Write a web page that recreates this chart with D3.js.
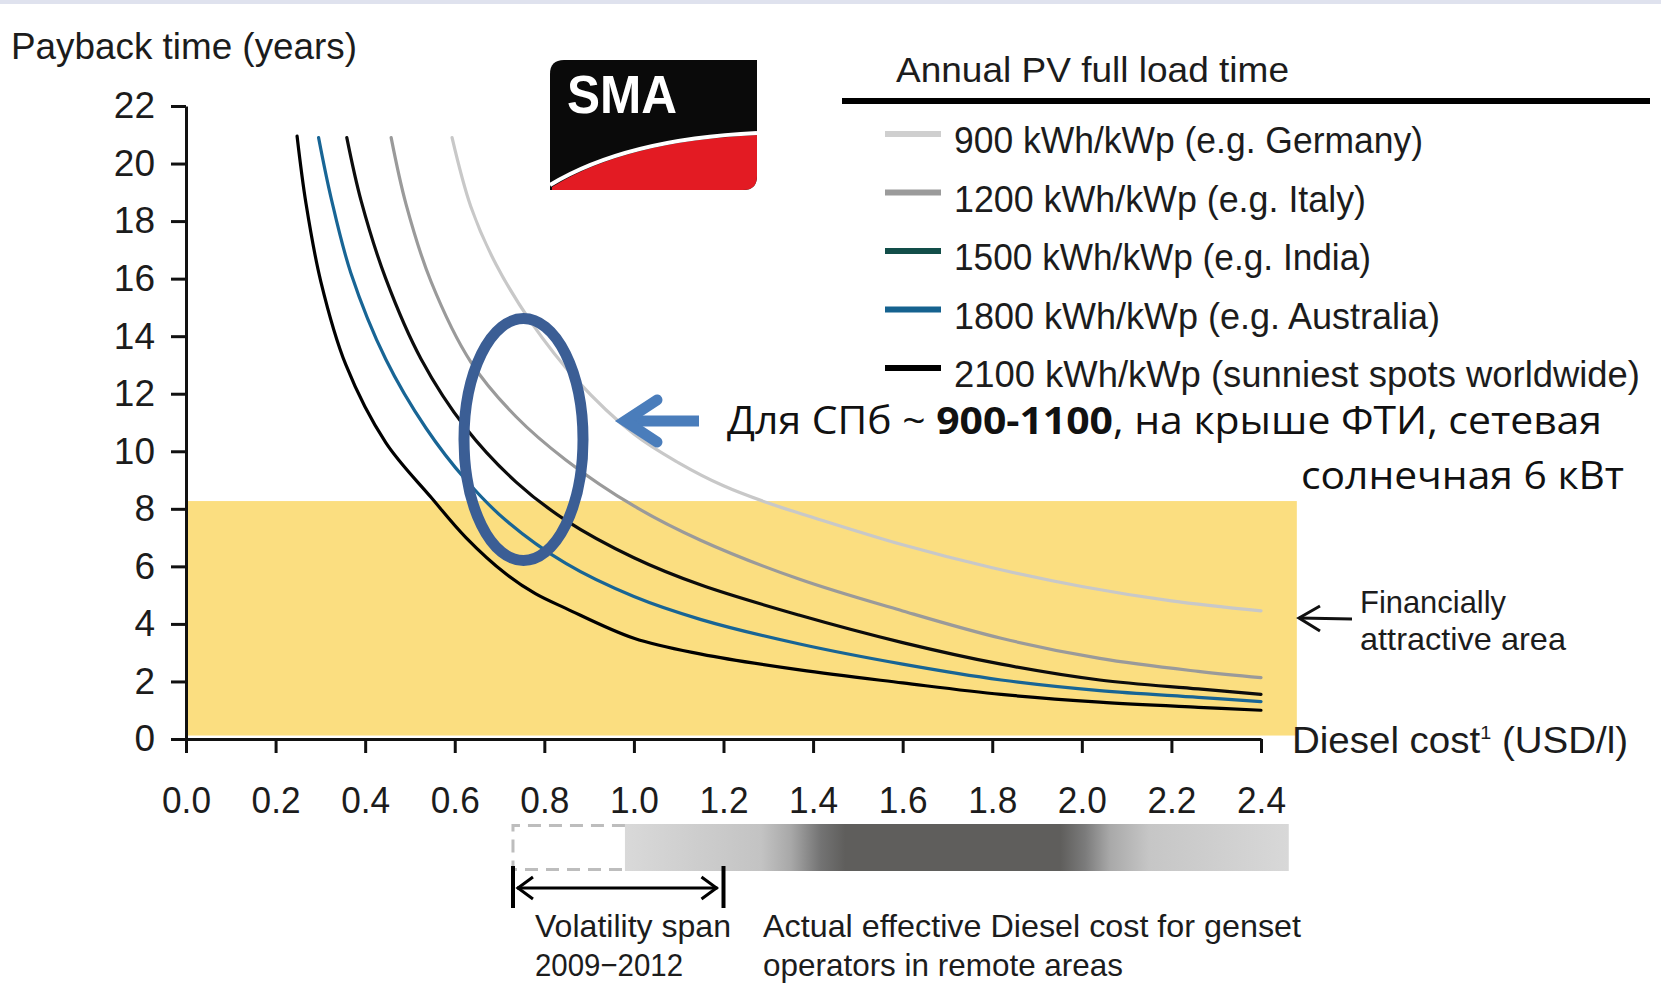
<!DOCTYPE html>
<html><head><meta charset="utf-8">
<script src="https://cdn.jsdelivr.net/npm/d3@7"></script>
<style>
body{margin:0;background:#fff;}
svg{display:block;}
</style>
</head><body>
<svg id="chart" width="1661" height="985"></svg>
<script>
// ---------- DATA ----------
const xTicks = [0.0,0.2,0.4,0.6,0.8,1.0,1.2,1.4,1.6,1.8,2.0,2.2,2.4];
const yTicks = [0,2,4,6,8,10,12,14,16,18,20,22];

const cost900    = [0.594,0.636,0.692,0.77,0.871,1.0,1.1,1.2,1.3,1.4,1.6,1.8,2.0,2.2,2.4];
const payback900 = [20.9,18.5,16.5,14.5,12.5,10.6,9.6,8.8,8.2,7.7,6.75,5.95,5.3,4.8,4.45];

const cost1200    = [0.458,0.491,0.547,0.636,0.737,0.848,1.0,1.15,1.37,1.6,1.82,2.04,2.26,2.4];
const payback1200 = [20.9,18.6,15.9,13.1,11.2,9.7,8.1,6.9,5.55,4.45,3.5,2.8,2.35,2.13];

const cost1500    = [0.359,0.391,0.446,0.525,0.625,0.737,0.848,1.0,1.15,1.37,1.6,1.82,2.04,2.26,2.4];
const payback1500 = [20.9,18.7,16.0,13.2,10.8,8.93,7.6,6.3,5.35,4.3,3.35,2.6,2.05,1.74,1.55];

const cost1800    = [0.296,0.324,0.368,0.446,0.536,0.625,0.714,0.848,1.0,1.15,1.37,1.6,1.82,2.04,2.26,2.4];
const payback1800 = [20.9,18.8,16.2,13.2,10.8,9.0,7.6,6.1,4.95,4.15,3.3,2.6,2.05,1.68,1.45,1.3];

const cost2100    = [0.248,0.268,0.301,0.357,0.446,0.547,0.625,0.714,0.78,0.848,1.0,1.15,1.37,1.6,1.82,2.04,2.26,2.4];
const payback2100 = [20.95,18.6,15.9,13.0,10.3,8.4,7.0,5.74,5.05,4.54,3.5,2.95,2.4,1.95,1.55,1.28,1.1,1.0];

const seriesLabels = [
  "900 kWh/kWp (e.g. Germany)",
  "1200 kWh/kWp (e.g. Italy)",
  "1500 kWh/kWp (e.g. India)",
  "1800 kWh/kWp (e.g. Australia)",
  "2100 kWh/kWp (sunniest spots worldwide)"
];
const curveColors  = ["#c8c8c8","#9a9a9a","#0c0c0c","#186595","#000000"];
const legendColors = ["#cfcfcf","#9b9b9b","#124e49","#15628f","#000000"];
const legendWidths = [469,412,417,486,686];

const attractiveMax = 8.27;      // top of the financially attractive band (years)
const attractiveXMax = 2.48;     // right edge of the band (USD/l)
const volatilitySpan = [0.73, 1.2];
const actualCostBar = [0.98, 2.462];

// ---------- SETUP ----------
const FONT = "'Liberation Sans Narrow','Liberation Sans',Arial,sans-serif";
const INK = "#1c1c1c";
const svg = d3.select("#chart");
const x = d3.scaleLinear().domain([0,2.4]).range([186,1261]);
const y = d3.scaleLinear().domain([0,22]).range([739,106]);

svg.append("rect").attr("x",0).attr("y",0).attr("width",1661).attr("height",4).attr("fill","#dfe2ee");

svg.append("rect")
  .attr("x",x(0)).attr("y",y(attractiveMax))
  .attr("width",x(attractiveXMax)-x(0)).attr("height",y(0.12)-y(attractiveMax))
  .attr("fill","#fbde80");

// ---------- AXES ----------
const gy = svg.append("g").attr("transform",`translate(${x(0)},0)`)
  .call(d3.axisLeft(y).tickValues(yTicks).tickSize(15).tickSizeOuter(0).tickPadding(16).tickFormat(d3.format("d")));
const gx = svg.append("g").attr("transform",`translate(0,${y(0)})`)
  .call(d3.axisBottom(x).tickValues(xTicks).tickSize(14).tickSizeOuter(0).tickPadding(34).tickFormat(d3.format(".1f")));
[gx,gy].forEach(g=>{
  g.attr("font-family",null).attr("font-size",null);
  g.select(".domain").attr("stroke","#111").attr("stroke-width",3);
  g.selectAll(".tick line").attr("stroke","#111").attr("stroke-width",3);
  g.selectAll(".tick text").attr("font-family",FONT).attr("font-size",37).attr("fill",INK);
});
gx.selectAll(".tick text").attr("textLength",49).attr("lengthAdjust","spacingAndGlyphs");

// ---------- CURVES ----------
const seriesCost = [cost900,cost1200,cost1500,cost1800,cost2100];
const seriesPay  = [payback900,payback1200,payback1500,payback1800,payback2100];
const line = d3.line().x(d=>x(d[0])).y(d=>y(d[1])).curve(d3.curveCatmullRom.alpha(0.5));
seriesCost.forEach((c,i)=>{
  const pts = c.map((v,j)=>[v,seriesPay[i][j]]);
  svg.append("path").attr("d",line(pts)).attr("fill","none")
    .attr("stroke",curveColors[i]).attr("stroke-width",3.2)
    .attr("stroke-linecap","round");
});

// ---------- TEXTS ----------
svg.append("text").attr("x",11).attr("y",59).attr("font-family",FONT).attr("font-size",37)
  .attr("fill",INK).attr("textLength",346).attr("lengthAdjust","spacingAndGlyphs")
  .text("Payback time (years)");

const dc = svg.append("text").attr("x",1292).attr("y",753).attr("font-family",FONT).attr("font-size",37)
  .attr("fill",INK).attr("textLength",336).attr("lengthAdjust","spacingAndGlyphs");
dc.append("tspan").text("Diesel cost");
dc.append("tspan").attr("font-size",19).attr("dy",-14).text("1");
dc.append("tspan").attr("dy",14).text(" (USD/l)");

// ---------- LEGEND ----------
svg.append("text").attr("x",896).attr("y",82).attr("font-family",FONT).attr("font-size",35)
  .attr("fill",INK).attr("textLength",393).attr("lengthAdjust","spacingAndGlyphs")
  .text("Annual PV full load time");
svg.append("line").attr("x1",842).attr("x2",1650).attr("y1",101).attr("y2",101)
  .attr("stroke","#000").attr("stroke-width",6);
const legendY = [134,192.5,251,309.5,368];
seriesLabels.forEach((lab,i)=>{
  svg.append("line").attr("x1",885).attr("x2",941).attr("y1",legendY[i]).attr("y2",legendY[i])
    .attr("stroke",legendColors[i]).attr("stroke-width",6);
  svg.append("text").attr("x",954).attr("y",legendY[i]+19).attr("font-family",FONT).attr("font-size",37)
    .attr("fill",INK).attr("textLength",legendWidths[i]).attr("lengthAdjust","spacingAndGlyphs").text(lab);
});

// ---------- SMA LOGO ----------
const logo = svg.append("g");
logo.append("path").attr("d","M564,60 H757 V176 Q757,190 743,190 H550 V74 Q550,60 564,60 Z").attr("fill","#0a0a0a");
logo.append("path").attr("d","M552,187 Q626,141 757,135 V176 Q757,190 743,190 H552 Z").attr("fill","#e31b23");
logo.append("path").attr("d","M550,185 Q626,139 757,133").attr("fill","none").attr("stroke","#fff").attr("stroke-width",4);
logo.append("text").attr("x",567).attr("y",113).attr("font-family","'Liberation Sans',Arial,sans-serif")
  .attr("font-weight","bold").attr("font-size",54).attr("fill","#fff")
  .attr("textLength",110).attr("lengthAdjust","spacingAndGlyphs").text("SMA");

// ---------- ANNOTATIONS ----------
svg.append("ellipse").attr("cx",523.5).attr("cy",439.5).attr("rx",59.5).attr("ry",121)
  .attr("fill","none").attr("stroke","#3b5e95").attr("stroke-width",11);
const arrowG = svg.append("g").attr("stroke","#4a7dbb").attr("fill","none").attr("stroke-width",11);
arrowG.append("line").attr("x1",630).attr("x2",699).attr("y1",421).attr("y2",421).attr("stroke-linecap","butt");
arrowG.append("path").attr("d","M657,400 L625,421 L657,442").attr("stroke-linecap","round").attr("stroke-linejoin","miter");

const ru1 = svg.append("text").attr("x",727).attr("y",434).attr("font-family","'Open Sans','Noto Sans',sans-serif")
  .attr("font-size",38).attr("fill","#111").attr("textLength",875).attr("lengthAdjust","spacingAndGlyphs");
ru1.append("tspan").text("Для СПб ~ ");
ru1.append("tspan").attr("font-weight","bold").text("900-1100");
ru1.append("tspan").text(", на крыше ФТИ, сетевая");
svg.append("text").attr("x",1301).attr("y",489).attr("font-family","'Open Sans','Noto Sans',sans-serif")
  .attr("font-size",38).attr("fill","#111").attr("textLength",323).attr("lengthAdjust","spacingAndGlyphs")
  .text("солнечная 6 кВт");

const fa = svg.append("g").attr("stroke","#111").attr("stroke-width",3).attr("fill","none");
fa.append("line").attr("x1",1299).attr("x2",1352).attr("y1",618).attr("y2",619);
fa.append("path").attr("d","M1320,606 L1299,618 L1320,631");
svg.append("text").attr("x",1360).attr("y",613).attr("font-family",FONT).attr("font-size",32).attr("fill",INK)
  .attr("textLength",146).attr("lengthAdjust","spacingAndGlyphs").text("Financially");
svg.append("text").attr("x",1360).attr("y",650).attr("font-family",FONT).attr("font-size",32).attr("fill",INK)
  .attr("textLength",206).attr("lengthAdjust","spacingAndGlyphs").text("attractive area");

const defs = svg.append("defs");
const grad = defs.append("linearGradient").attr("id","costGrad").attr("gradientUnits","userSpaceOnUse")
  .attr("x1",x(actualCostBar[0])).attr("x2",x(actualCostBar[1])).attr("y1",0).attr("y2",0);
[[0,"#d9d9d9"],[0.205,"#c3c3c3"],[0.25,"#a8a8a8"],[0.295,"#737373"],[0.332,"#5f5e5c"],
 [0.656,"#5f5e5c"],[0.693,"#7b7b7b"],[0.731,"#a9a9a9"],[0.79,"#c6c6c6"],[1,"#d8d8d8"]]
 .forEach(s=>grad.append("stop").attr("offset",s[0]).attr("stop-color",s[1]));
svg.append("rect").attr("x",x(actualCostBar[0])).attr("y",824)
  .attr("width",x(actualCostBar[1])-x(actualCostBar[0])).attr("height",47).attr("fill","url(#costGrad)");
svg.append("path")
  .attr("d",`M${x(actualCostBar[0])},825.5 H${x(volatilitySpan[0])} V869.5 H${x(actualCostBar[0])}`)
  .attr("fill","none").attr("stroke","#bdbdbd").attr("stroke-width",3).attr("stroke-dasharray","13,8");

const vs = svg.append("g").attr("stroke","#000").attr("fill","none").attr("stroke-width",4);
vs.append("line").attr("x1",x(volatilitySpan[0])).attr("x2",x(volatilitySpan[0])).attr("y1",866).attr("y2",908);
vs.append("line").attr("x1",x(volatilitySpan[1])).attr("x2",x(volatilitySpan[1])).attr("y1",866).attr("y2",908);
vs.append("line").attr("x1",x(volatilitySpan[0])+4).attr("x2",x(volatilitySpan[1])-6).attr("y1",888).attr("y2",888).attr("stroke-width",3);
vs.append("path").attr("d",`M${x(volatilitySpan[0])+20},877 L${x(volatilitySpan[0])+5},888 L${x(volatilitySpan[0])+20},899`).attr("stroke-width",3);
vs.append("path").attr("d",`M${x(volatilitySpan[1])-22},877 L${x(volatilitySpan[1])-7},888 L${x(volatilitySpan[1])-22},899`).attr("stroke-width",3);

const bt = [
  ["Volatility span",535,937,196],
  ["2009\u22122012",535,976,148],
  ["Actual effective Diesel cost for genset",763,937,538],
  ["operators in remote areas",763,976,360]
];
bt.forEach(t=>{
  svg.append("text").attr("x",t[1]).attr("y",t[2]).attr("font-family",FONT).attr("font-size",32)
    .attr("fill",INK).attr("textLength",t[3]).attr("lengthAdjust","spacingAndGlyphs").text(t[0]);
});
</script>
</body></html>
